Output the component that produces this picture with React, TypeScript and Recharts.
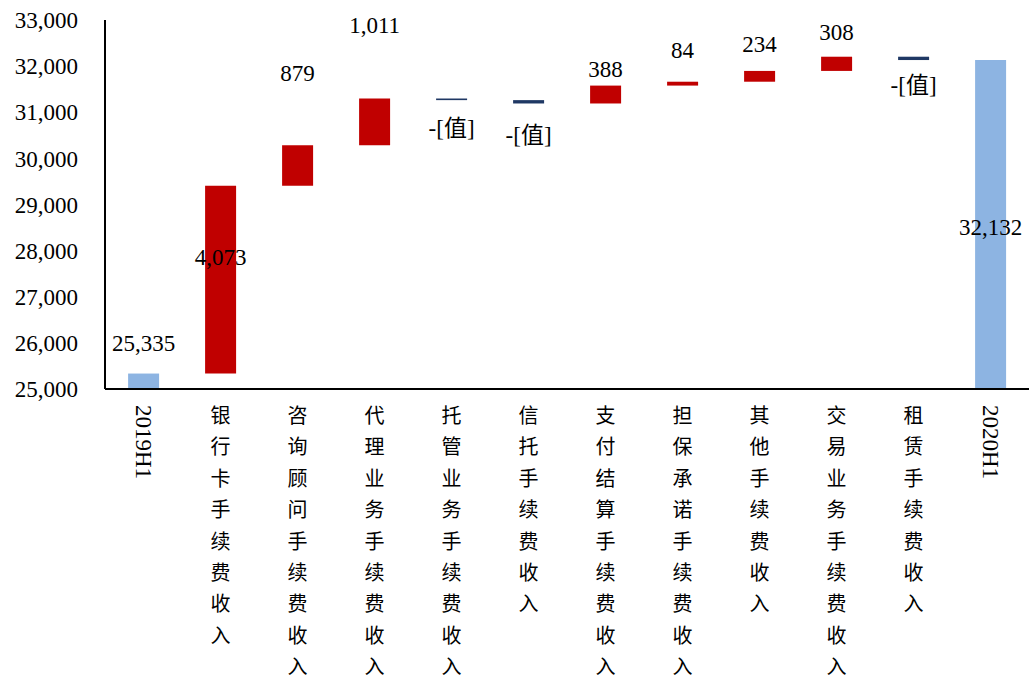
import { BarChart, Bar, XAxis, YAxis, Cell, LabelList } from 'recharts';

const categories = [
  '2019H1', '银行卡手续费收入', '咨询顾问手续费收入', '代理业务手续费收入', '托管业务手续费收入',
  '信托手续费收入', '支付结算手续费收入', '担保承诺手续费收入', '其他手续费收入',
  '交易业务手续费收入', '租赁手续费收入', '2020H1'
];
// first and last are totals, the rest are changes
const changes = [25335, 4073, 879, 1011, -35, -73, 388, 84, 234, 308, -72, 32132];
const yTicks = [25000, 26000, 27000, 28000, 29000, 30000, 31000, 32000, 33000];

const Y_MIN = 25000;
const Y_MAX = 33000;
const TOTAL_COLOR = '#8DB4E2';
const UP_COLOR = '#C00000';
const DOWN_COLOR = '#1F3864';
const FONT = '"Liberation Serif", "Times New Roman", "Noto Sans CJK SC", serif';

// label placement: where the text sits relative to its bar, and how far (px)
const labelPlace: { mode: 'above' | 'below' | 'inside'; shift: number }[] = [
  { mode: 'above', shift: 30 },
  { mode: 'inside', shift: -22 },
  { mode: 'above', shift: 72 },
  { mode: 'above', shift: 73 },
  { mode: 'below', shift: 28 },
  { mode: 'below', shift: 32 },
  { mode: 'above', shift: 16 },
  { mode: 'above', shift: 31 },
  { mode: 'above', shift: 26 },
  { mode: 'above', shift: 24 },
  { mode: 'below', shift: 25 },
  { mode: 'inside', shift: 3 },
];

const buildRows = () => {
  let running = 0;
  return categories.map((name, i) => {
    const v = changes[i];
    const isTotal = i === 0 || i === categories.length - 1;
    let range: [number, number];
    if (isTotal) {
      range = [Y_MIN, v];
      running = v;
    } else {
      const next = running + v;
      range = [Math.min(running, next), Math.max(running, next)];
      running = next;
    }
    return { name, range, value: v, isTotal };
  });
};

const rows = buildRows();

const fmt = (v: number) => v.toLocaleString('en-US');

function ValueLabel(props: any) {
  const { x, y, width, height, index } = props;
  const row = rows[index];
  const top = Math.min(y, y + height);
  const bottom = Math.max(y, y + height);
  const place = labelPlace[index];
  let cy = top - place.shift;
  if (place.mode === 'below') cy = bottom + place.shift;
  if (place.mode === 'inside') cy = (top + bottom) / 2 + place.shift;
  const text = row.value < 0 ? '-[值]' : fmt(row.value);
  return (
    <text
      x={x + width / 2}
      y={cy}
      textAnchor="middle"
      dominantBaseline="central"
      fontFamily={FONT}
      fontSize={23}
      fill="#000"
    >
      {text}
    </text>
  );
}

function CategoryTick(props: any) {
  const { x, y, payload } = props;
  const label: string = payload.value;
  if (/^\d/.test(label)) {
    return (
      <text
        transform={`translate(${x},${y + 14}) rotate(90)`}
        textAnchor="start"
        dominantBaseline="central"
        fontFamily={FONT}
        fontSize={23}
        fill="#000"
      >
        {label}
      </text>
    );
  }
  // stacked vertical characters
  return (
    <g>
      {label.split('').map((ch, i) => (
        <text
          key={i}
          x={x}
          y={y + 25 + i * 31.4}
          textAnchor="middle"
          dominantBaseline="central"
          fontFamily={FONT}
          fontSize={20}
          fill="#000"
        >
          {ch}
        </text>
      ))}
    </g>
  );
}

export default function App() {
  return (
    <div style={{ position: 'absolute', left: 0, top: 0, width: 1036, height: 679, background: '#fff' }}>
      <BarChart
        width={1036}
        height={679}
        data={rows}
        margin={{ top: 20, right: 7, bottom: 0, left: 0 }}
        barCategoryGap="30%"
      >
        <XAxis
          dataKey="name"
          interval={0}
          height={290}
          tickLine={false}
          tickSize={0}
          axisLine={{ stroke: '#000', strokeWidth: 2 }}
          tick={<CategoryTick />}
        />
        <YAxis
          domain={[Y_MIN, Y_MAX]}
          ticks={yTicks}
          allowDataOverflow
          width={105}
          tickLine={false}
          tickSize={0}
          tickMargin={27}
          axisLine={{ stroke: '#000', strokeWidth: 2 }}
          tickFormatter={(v) => fmt(v)}
          tick={{ fontFamily: FONT, fontSize: 23, fill: '#000' }}
        />
        <Bar dataKey="range" isAnimationActive={false}>
          {rows.map((r, i) => (
            <Cell
              key={i}
              fill={r.isTotal ? TOTAL_COLOR : r.value >= 0 ? UP_COLOR : DOWN_COLOR}
            />
          ))}
          <LabelList dataKey="range" content={<ValueLabel />} />
        </Bar>
      </BarChart>
    </div>
  );
}
